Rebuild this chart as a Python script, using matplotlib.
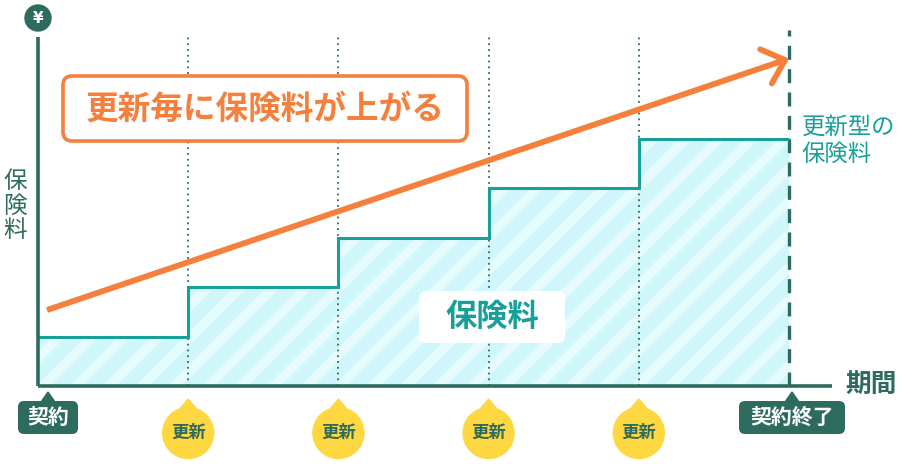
import matplotlib
matplotlib.use("Agg")
import matplotlib.pyplot as plt
from matplotlib.patches import FancyBboxPatch, Circle, Polygon
import numpy as np

plt.rcParams['font.family'] = ['Noto Sans CJK JP', 'DejaVu Sans']

# ---- data ----
edges = [0, 1, 2, 3, 4, 5]              # contract periods (契約 .. 契約終了)
premiums = [1, 2, 3, 4, 5]              # premium level per period
tick_labels = ['契約', '更新', '更新', '更新', '更新', '契約終了']
title_text = '更新毎に保険料が上がる'
fill_label = '保険料'
series_label = '更新型の\n保険料'
y_label = '保険料'
x_label = '期間'

DARK = '#2D6B5E'
TEAL = '#17A09A'
FILL = '#CFF6FB'
STRIPE = '#E6FBFE'
ORANGE = '#F57F3B'
YELLOW = '#FFD740'

W, H = 904, 466
fig = plt.figure(figsize=(W / 100, H / 100), dpi=100)
ax = fig.add_axes([0, 0, 1, 1])
ox, oy = 38, 386                 # pixel origin
ux, uy = 150.2, 49.4             # pixels per unit
ax.set_xlim(-ox / ux, (W - ox) / ux)
ax.set_ylim(-(H - oy) / uy, oy / uy)
ax.axis('off')

# decoration layer in pixel coordinates
d = fig.add_axes([0, 0, 1, 1], zorder=5)
d.set_xlim(0, W)
d.set_ylim(H, 0)
d.axis('off')
d.patch.set_alpha(0)

top = (oy - 37) / uy
# fill
fill_patch = ax.stairs(premiums, edges, baseline=0, fill=True, facecolor=FILL,
                       linewidth=0, zorder=1)
# diagonal stripes clipped to the fill
for c in np.arange(0, W + H + 40, 33):
    ln, = ax.plot([c - H, c], [H, 0], color=STRIPE, lw=6.8, transform=d.transData,
                  solid_capstyle='butt', zorder=1.5)
    ln.set_clip_path(fill_patch)
ax.stairs(premiums, edges, baseline=None, color=TEAL, linewidth=2.2, zorder=3)

# renewal dotted lines
ax.vlines(edges[1:-1], 0, top, colors=DARK, linestyles=(0, (1, 2.2)), linewidth=1.3, zorder=2)
# contract end dashed line
ax.vlines([edges[-1]], 0, (oy - 30) / uy, colors=DARK, linestyles=(0, (4.2, 2.8)),
          linewidth=2.4, zorder=2)
# axes lines
ax.plot([0, 0], [0, top], color=DARK, lw=2.6, solid_capstyle='butt', zorder=4)
ax.plot([0, (832 - ox) / ux], [0, 0], color=DARK, lw=2.6, solid_capstyle='butt', zorder=4)

def px(xv):
    return ax.transData.transform((xv, 0))[0]

# yen circle
d.add_patch(Circle((38, 18), 13, color=DARK))
d.text(38, 18.5, '¥', color='white', fontsize=11, fontweight='bold', ha='center', va='center',
       family='DejaVu Sans')

# y label (vertical)
d.text(15, 206, '\n'.join(y_label), color=DARK, fontsize=17, ha='center', va='center',
       linespacing=1.08)

# x label
d.text(871, 384, x_label, color=DARK, fontsize=18.5, fontweight='bold', ha='center', va='center')

# series label
d.text(802, 141, series_label, color=TEAL, fontsize=16.8, ha='left', va='center', linespacing=1.22)

# orange title box
d.add_patch(FancyBboxPatch((63, 76), 404, 65, boxstyle='round,pad=0,rounding_size=9',
                           facecolor='white', edgecolor=ORANGE, lw=2.6, zorder=6))
d.text(265, 109, title_text, color=ORANGE, fontsize=23.5, fontweight='bold',
       ha='center', va='center', zorder=7)

# rising arrow
tip = (785, 60)
d.plot([47, tip[0]], [310, tip[1]], color=ORANGE, lw=4.2, solid_capstyle='butt', zorder=6)
ang = np.arctan2(tip[1] - 310, tip[0] - 47)
for s in (+1, -1):
    a2 = ang + np.pi + s * np.radians(42)
    d.plot([tip[0], tip[0] + 27 * np.cos(a2)], [tip[1], tip[1] + 27 * np.sin(a2)],
           color=ORANGE, lw=4.2, solid_capstyle='round', zorder=6)

# fill label box
d.add_patch(FancyBboxPatch((419, 291), 146, 52, boxstyle='round,pad=0,rounding_size=7',
                           facecolor='white', edgecolor='none', zorder=6))
d.text(492, 317, fill_label, color=TEAL, fontsize=22.5, fontweight='bold',
       ha='center', va='center', zorder=7)

# bottom tags
for i, lab in enumerate(tick_labels):
    x = px(edges[i])
    if lab == '更新':
        d.add_patch(Circle((x, 433), 25.5, color=YELLOW, zorder=6))
        d.add_patch(Polygon([(x - 11, 412), (x, 399), (x + 11, 412)], closed=True,
                            color=YELLOW, zorder=6))
        d.text(x, 433, lab, color=DARK, fontsize=12.5, fontweight='bold',
               ha='center', va='center', zorder=7)
    else:
        if len(lab) == 2:
            cx, w, tx = x + 10, 60, x + 10
        else:
            cx, w, tx = x + 3, 106, x + 3
        d.add_patch(FancyBboxPatch((cx - w / 2, 401), w, 33, boxstyle='round,pad=0,rounding_size=6',
                                   facecolor=DARK, edgecolor='none', zorder=6))
        d.add_patch(Polygon([(tx - 7, 402), (tx, 392), (tx + 7, 402)], closed=True,
                            color=DARK, zorder=6))
        d.text(cx, 417.5, lab, color='white', fontsize=15, fontweight='bold',
               ha='center', va='center', zorder=7)

fig.savefig('out.png', dpi=100)
